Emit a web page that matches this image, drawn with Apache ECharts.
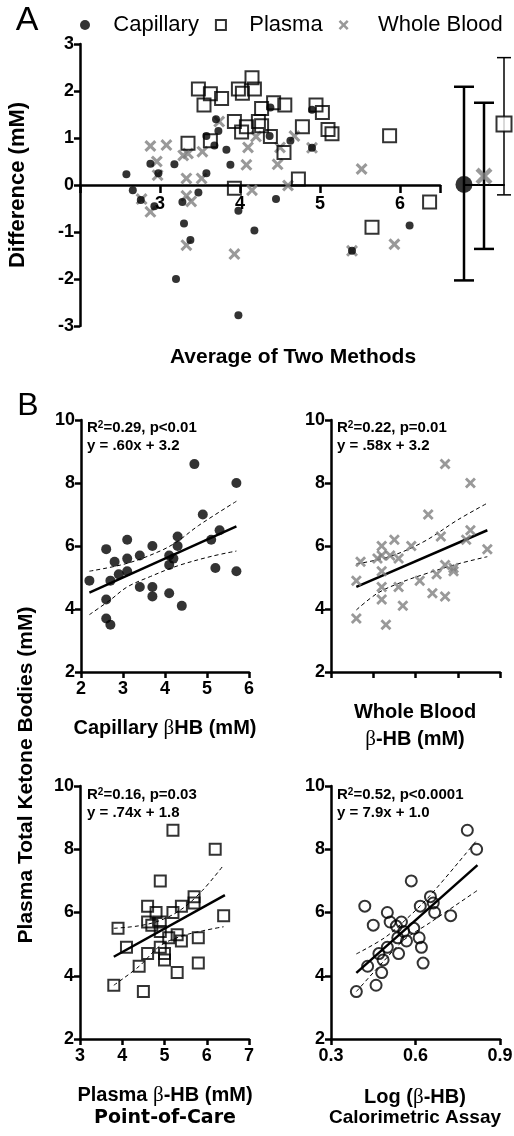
<!DOCTYPE html>
<html>
<head>
<meta charset="utf-8">
<title>Ketone methods comparison</title>
<script src="https://cdn.jsdelivr.net/npm/echarts@6/dist/echarts.min.js"></script>
<style>
  html, body { margin: 0; padding: 0; background: #fff; }
  #main { width: 514px; height: 1136px; }
</style>
</head>
<body>
<div id="main"></div>
<script type="text/javascript">
// Panel A: [average of two methods, difference] (mM)
var capillaryDiff = [[2.58,0.23],[2.66,-0.11],[2.76,-0.32],[2.88,0.45],[2.93,-0.45],[2.98,0.25],
  [3.18,0.44],[3.2,-2.0],[3.28,-0.36],[3.3,-0.82],[3.38,-1.17],[3.48,-0.16],[3.58,0.25],[3.58,1.04],
  [3.68,0.84],[3.7,1.4],[3.73,1.15],[3.83,0.75],[3.88,0.43],[3.98,-2.77],[3.98,-0.55],[4.18,-0.97],
  [4.38,1.65],[4.37,1.04],[4.45,-0.3],[4.63,0.94],[4.9,0.79],[4.9,1.6],[5.4,-1.4],[6.12,-0.86]];
var plasmaDiff = [[3.48,2.04],[3.63,1.94],[3.55,1.7],[3.77,1.84],[3.35,0.89],[3.63,0.94],[3.93,1.35],
  [3.98,2.04],[4.03,1.95],[4.15,2.28],[4.18,2.04],[4.08,1.24],[4.02,1.13],[4.23,1.35],[4.27,1.26],
  [4.27,1.63],[4.42,1.75],[4.56,1.7],[4.38,1.03],[4.55,0.69],[4.78,1.24],[4.73,0.13],[3.93,-0.07],
  [4.95,1.7],[5.03,1.54],[5.1,1.18],[5.15,1.09],[5.87,1.05],[5.65,-0.9],[6.37,-0.36]];
var wholeBloodDiff = [[2.88,0.83],[3.08,0.85],[2.96,0.5],[2.77,-0.3],[2.88,-0.57],[2.97,0.21],
  [3.29,0.63],[3.35,0.67],[3.33,0.14],[3.33,-0.23],[3.39,-0.35],[3.53,0.71],[3.52,0.14],[3.33,-1.28],
  [3.74,1.35],[3.93,-1.47],[4.08,0.43],[4.1,0.8],[4.15,-0.11],[4.2,1.03],[4.47,0.44],[4.5,0.8],
  [4.6,-0.01],[4.68,1.04],[4.9,0.79],[5.52,0.34],[5.4,-1.4],[5.93,-1.26]];

// Panel A right: mean difference and spread per method
var biasMethods = ['Capillary', 'Whole Blood', 'Plasma'];
var biasMean = [0.01, 0.19, 1.3];
var biasLow = [-2.03, -1.36, -0.21];
var biasHigh = [2.09, 1.75, 2.71];

// Panel B: [method beta-HB, plasma total ketone bodies] (mM)
var capillaryVsTotal = [[2.2,4.9],[2.6,5.9],[2.6,4.3],[2.6,3.7],[2.7,3.5],[2.7,4.9],[2.8,5.5],
  [2.9,5.1],[3.1,6.2],[3.1,5.6],[3.1,5.2],[3.4,5.7],[3.4,4.7],[3.7,6.0],[3.7,4.7],[3.7,4.4],
  [4.1,4.5],[4.1,5.7],[4.1,5.4],[4.2,5.6],[4.3,6.3],[4.3,6.0],[4.4,4.1],[4.7,8.6],[4.9,7.0],
  [5.1,6.2],[5.2,5.3],[5.3,6.5],[5.7,8.0],[5.7,5.2]];
var capillaryFit = [[2.2,4.52],[5.7,6.62]];
var capillaryUpper = [[2.2,5.2],[3.1,5.45],[3.9,5.85],[4.3,6.15],[4.8,6.65],[5.7,7.42]];
var capillaryLower = [[2.2,3.82],[2.7,4.29],[3.1,4.7],[3.65,5.03],[4.3,5.37],[5.1,5.67],[5.7,5.84]];

var wholeBloodVsTotal = [[2.6,4.9],[2.6,3.7],[2.7,5.5],[3.1,5.6],[3.2,6.0],[3.2,5.7],[3.2,5.2],
  [3.2,4.7],[3.2,4.3],[3.3,3.5],[3.4,5.7],[3.5,6.2],[3.6,5.6],[3.6,4.7],[3.7,4.1],[3.9,6.0],
  [4.1,4.9],[4.3,7.0],[4.4,4.5],[4.5,5.1],[4.6,6.3],[4.7,8.6],[4.7,5.4],[4.7,4.4],[4.9,5.3],
  [4.9,5.2],[5.2,6.2],[5.3,8.0],[5.3,6.5],[5.7,5.9]];
var wholeBloodFit = [[2.6,4.7],[5.7,6.5]];
var wholeBloodUpper = [[2.6,5.43],[3.4,5.67],[4.2,6.14],[5.0,6.83],[5.7,7.36]];
var wholeBloodLower = [[2.6,3.97],[3.1,4.5],[3.65,4.84],[4.2,5.1],[5.0,5.43],[5.7,5.66]];

var plasmaVsTotal = [[3.8,3.7],[3.9,5.5],[4.1,4.9],[4.4,4.3],[4.5,3.5],[4.6,6.2],[4.6,5.7],
  [4.6,4.7],[4.7,5.6],[4.8,6.0],[4.9,7.0],[4.9,5.7],[4.9,5.4],[4.9,4.9],[5.0,4.7],[5.0,4.5],
  [5.1,5.2],[5.2,8.6],[5.2,6.0],[5.3,5.3],[5.3,4.1],[5.4,6.2],[5.4,5.1],[5.7,6.5],[5.7,6.3],
  [5.8,5.2],[5.8,4.4],[6.2,8.0],[6.4,5.9]];
var plasmaFit = [[3.8,4.6],[6.43,6.55]];
var plasmaUpper = [[3.8,5.5],[4.4,5.58],[4.9,5.75],[5.4,6.1],[5.9,6.7],[6.4,7.5]];
var plasmaLower = [[3.8,3.7],[4.4,4.3],[4.9,4.95],[5.4,5.25],[5.9,5.42],[6.4,5.55]];

var logVsTotal = [[0.39,3.5],[0.42,6.2],[0.43,4.3],[0.45,5.6],[0.46,3.7],[0.47,4.7],[0.48,4.1],
  [0.485,4.5],[0.5,6.0],[0.5,4.9],[0.51,5.7],[0.537,5.2],[0.54,4.7],[0.55,5.7],[0.532,5.57],
  [0.558,5.4],[0.568,5.1],[0.585,7.0],[0.594,5.5],[0.613,5.2],[0.617,6.2],[0.621,4.9],[0.627,4.4],
  [0.653,6.5],[0.663,6.3],[0.668,6.0],[0.725,5.9],[0.784,8.6],[0.817,8.0]];
var logFit = [[0.39,4.09],[0.82,7.5]];
var logUpper = [[0.39,4.69],[0.49,5.2],[0.56,5.73],[0.65,6.52],[0.82,8.31]];
var logLower = [[0.39,3.5],[0.49,4.49],[0.56,5.14],[0.65,5.67],[0.82,6.7]];

var myChart = echarts.init(document.getElementById('main'));
var FONT = 'Liberation Sans';
var crossPath = 'path://M0,1.8L1.8,0L5,3.2L8.2,0L10,1.8L6.8,5L10,8.2L8.2,10L5,6.8L1.8,10L0,8.2L3.2,5Z';
var GREY = '#7f7f7f';

function valueAxis(gridIndex, min, max, interval) {
    return {
        type: 'value', gridIndex: gridIndex, min: min, max: max, interval: interval,
        axisLine: { onZero: false, lineStyle: { color: '#000', width: 2.5 } },
        axisTick: { length: 6, lineStyle: { color: '#000', width: 2.5 } },
        axisLabel: { color: '#000', fontSize: 18, fontWeight: 'bold', fontFamily: FONT, margin: 6 },
        splitLine: { show: false }
    };
}

function lineSeries(idx, data, dashed) {
    return {
        type: 'line', xAxisIndex: idx, yAxisIndex: idx, data: data,
        symbol: 'none', silent: true, z: 1,
        smooth: dashed ? 0.35 : false,
        lineStyle: { color: '#000', width: dashed ? 1 : 2.5, type: dashed ? [4, 3] : 'solid' }
    };
}

var dotStyle = { symbol: 'circle', itemStyle: { color: '#000' } };
var squareStyle = { symbol: 'rect', itemStyle: { color: 'rgba(0,0,0,0)', borderColor: '#000', borderWidth: 2 } };
var crossStyle = { symbol: crossPath, itemStyle: { color: GREY } };
var ringStyle = { symbol: 'circle', itemStyle: { color: 'rgba(0,0,0,0)', borderColor: '#000', borderWidth: 2 } };

function scatter(name, idx, data, style, size) {
    return {
        name: name, type: 'scatter', xAxisIndex: idx, yAxisIndex: idx, data: data,
        symbol: style.symbol, symbolSize: size, itemStyle: style.itemStyle, clip: false, z: 3
    };
}

// x axis of panel A sits at y = 0, half way up the grid
var xA = valueAxis(0, 2, 6.5, 1);
xA.offset = -141;
xA.axisTick.length = 8;
xA.axisLabel.margin = 10;
xA.axisLabel.formatter = function (v) { return (v === 2 || v === 6.5) ? '' : String(v); };

var xBias = {
    type: 'value', gridIndex: 1, min: 0, max: 2,
    axisLine: { onZero: true, lineStyle: { color: '#000', width: 2 } },
    axisTick: { show: false }, axisLabel: { show: false }, splitLine: { show: false }
};
var yBias = {
    type: 'value', gridIndex: 1, min: -3, max: 3, show: false, splitLine: { show: false }
};

var xCap = valueAxis(2, 2, 6, 1);
var xWhole = valueAxis(3, 2, 6, 1);
xWhole.axisLabel.show = false;
var xPlasma = valueAxis(4, 3, 7, 1);
var xLog = valueAxis(5, 0.3, 0.9, 0.3);
xLog.axisLabel.formatter = function (v) { return v.toFixed(1); };
[xCap, xWhole, xPlasma, xLog].forEach(function (a) { a.axisLabel.margin = 8; });

var yA = valueAxis(0, -3, 3, 1);
var yB = [2, 3, 4, 5].map(function (g) { return valueAxis(g, 2, 10, 2); });

var biasData = biasMethods.map(function (m, i) { return [i, biasLow[i], biasHigh[i]]; });
var biasSymbols = [
    { symbol: 'circle', symbolSize: 17, itemStyle: { color: '#000' } },
    { symbol: crossPath, symbolSize: 17, itemStyle: { color: GREY } },
    { symbol: 'rect', symbolSize: 15, itemStyle: { color: '#fff', borderColor: '#000', borderWidth: 2 } }
];
var biasMeans = biasMethods.map(function (m, i) {
    var s = biasSymbols[i];
    return { name: m, value: [i, biasMean[i]], symbol: s.symbol, symbolSize: s.symbolSize, itemStyle: s.itemStyle };
});

function txt(x, y, text, font, extra) {
    var el = { type: 'text', x: x, y: y, silent: true,
        style: { text: text, font: font, fill: '#000', align: 'center', verticalAlign: 'middle' } };
    if (extra) {
        for (var k in extra) { el.style[k] = extra[k]; }
    }
    return el;
}
var boldT = 'bold 20px "Liberation Sans"';
var betaRich = {
    b: { fontFamily: FONT, fontWeight: 'bold', fontSize: 20 },
    g: { fontFamily: 'Liberation Serif', fontWeight: 'normal', fontSize: 21 }
};
var statRich = {
    b: { fontFamily: FONT, fontWeight: 'bold', fontSize: 15 },
    s: { fontFamily: FONT, fontWeight: 'bold', fontSize: 10, verticalAlign: 'top', padding: [0, 0, 6, 0] }
};
function stat(x, y, r2, rest, eq) {
    return [
        txt(x, y, '{b|R}{s|2}{b|=' + r2 + ', ' + rest + '}', 'bold 15px "Liberation Sans"', { align: 'left', rich: statRich }),
        txt(x, y + 18, eq, 'bold 15px "Liberation Sans"', { align: 'left' })
    ];
}
var legendPad = { 'Capillary': '   ', 'Plasma': '   ', 'Whole Blood': '    ' };

var option = {
    animation: false,
    backgroundColor: '#fff',
    legend: {
        left: 75, top: 9, width: 480, itemWidth: 10, itemHeight: 10, itemGap: 16, selectedMode: false,
        data: [{ name: 'Capillary', icon: 'circle' }, 'Plasma', 'Whole Blood'],
        formatter: function (n) { return legendPad[n] + n; },
        textStyle: { fontSize: 22, fontFamily: FONT, color: '#000' }
    },
    grid: [
        { left: 80, top: 44, width: 360, height: 282, outerBoundsMode: 'none' },
        { left: 464, top: 44, width: 40, height: 282, outerBoundsMode: 'none' },
        { left: 81, top: 420, width: 168, height: 252, outerBoundsMode: 'none' },
        { left: 331, top: 420, width: 169, height: 252, outerBoundsMode: 'none' },
        { left: 80, top: 786, width: 169, height: 253, outerBoundsMode: 'none' },
        { left: 331, top: 786, width: 169, height: 253, outerBoundsMode: 'none' }
    ],
    xAxis: [xA, xBias, xCap, xWhole, xPlasma, xLog],
    yAxis: [yA, yBias].concat(yB),
    graphic: [
        txt(27, 21, 'A', '34px "Liberation Sans"'),
        txt(28, 406, 'B', '32px "Liberation Sans"'),
        txt(18, 185, 'Difference (mM)', 'bold 22px "Liberation Sans"', null),
        txt(293, 357, 'Average of Two Methods', 'bold 21px "Liberation Sans"'),
        txt(26, 775, 'Plasma Total Ketone Bodies (mM)', 'bold 21px "Liberation Sans"'),
        txt(165, 728, '{b|Capillary }{g|β}{b|HB (mM)}', boldT, { rich: betaRich }),
        txt(415, 712, 'Whole Blood', boldT),
        txt(415, 739, '{g|β}{b|-HB (mM)}', boldT, { rich: betaRich }),
        txt(165, 1095, '{b|Plasma }{g|β}{b|-HB (mM)}', boldT, { rich: betaRich }),
        txt(165, 1118, 'Point-of-Care', 'bold 19px "DejaVu Sans"'),
        txt(415, 1097, '{b|Log (}{g|β}{b|-HB)}', boldT, { rich: betaRich }),
        txt(415, 1118, 'Calorimetric Assay', 'bold 19px "Liberation Sans"')
    ].concat(stat(87, 428, '0.29', 'p<0.01', 'y = .60x + 3.2'))
     .concat(stat(337, 428, '0.22', 'p=0.01', 'y = .58x + 3.2'))
     .concat(stat(87, 795, '0.16', 'p=0.03', 'y = .74x + 1.8'))
     .concat(stat(337, 795, '0.52', 'p<0.0001', 'y = 7.9x + 1.0')),
    series: [
        scatter('Whole Blood', 0, wholeBloodDiff, crossStyle, 12),
        scatter('Plasma', 0, plasmaDiff, squareStyle, 13),
        scatter('Capillary', 0, capillaryDiff, dotStyle, 8),
        {
            type: 'custom', xAxisIndex: 1, yAxisIndex: 1, data: biasData, clip: false, z: 2,
            renderItem: function (params, api) {
                var i = api.value(0);
                var top = api.coord([i, api.value(2)]);
                var bot = api.coord([i, api.value(1)]);
                var half = i === 2 ? 7 : 10;
                var lw = i === 2 ? 1.5 : 2.5;
                var st = { stroke: '#000', lineWidth: lw };
                return {
                    type: 'group',
                    children: [
                        { type: 'line', shape: { x1: top[0], y1: top[1], x2: bot[0], y2: bot[1] }, style: st },
                        { type: 'line', shape: { x1: top[0] - half, y1: top[1], x2: top[0] + half, y2: top[1] }, style: st },
                        { type: 'line', shape: { x1: bot[0] - half, y1: bot[1], x2: bot[0] + half, y2: bot[1] }, style: st }
                    ]
                };
            }
        },
        { name: 'bias', type: 'scatter', xAxisIndex: 1, yAxisIndex: 1, data: biasMeans, clip: false, z: 4 },

        lineSeries(2, capillaryFit, false),
        lineSeries(2, capillaryUpper, true),
        lineSeries(2, capillaryLower, true),
        scatter('cap-b', 2, capillaryVsTotal, dotStyle, 10),

        lineSeries(3, wholeBloodFit, false),
        lineSeries(3, wholeBloodUpper, true),
        lineSeries(3, wholeBloodLower, true),
        scatter('wb-b', 3, wholeBloodVsTotal, crossStyle, 11),

        lineSeries(4, plasmaFit, false),
        lineSeries(4, plasmaUpper, true),
        lineSeries(4, plasmaLower, true),
        scatter('pl-b', 4, plasmaVsTotal, squareStyle, 11),

        lineSeries(5, logFit, false),
        lineSeries(5, logUpper, true),
        lineSeries(5, logLower, true),
        scatter('log-b', 5, logVsTotal, ringStyle, 11)
    ]
};
// rotate the two vertical titles
option.graphic[2].rotation = Math.PI / 2;
option.graphic[4].rotation = Math.PI / 2;

myChart.setOption(option);
</script>
</body>
</html>
